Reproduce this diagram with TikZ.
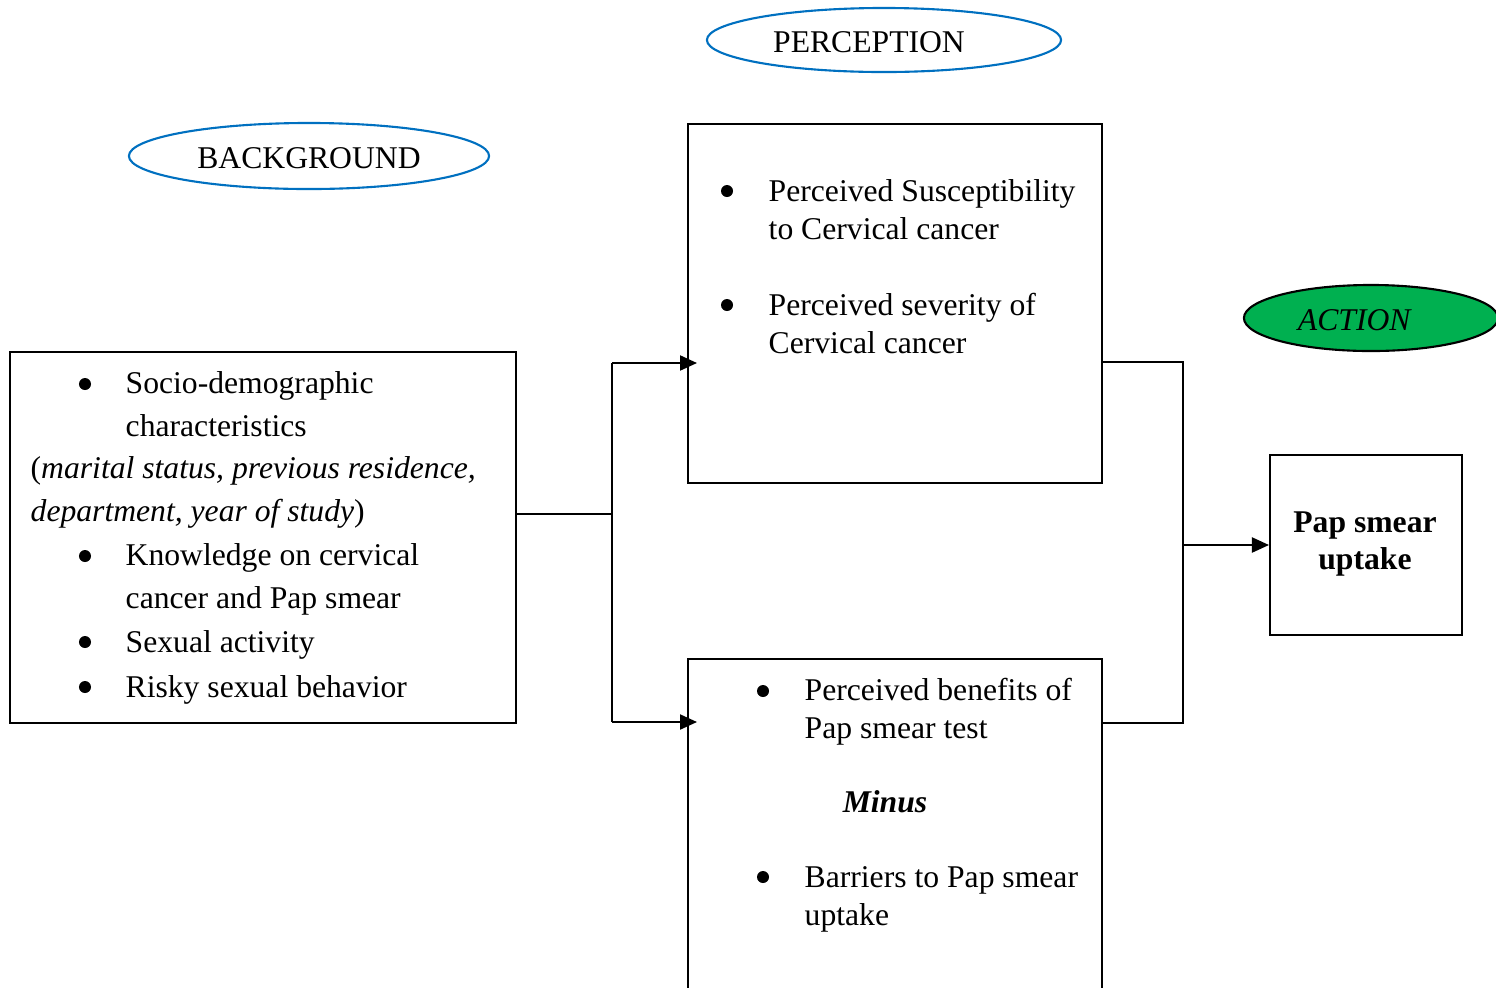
\documentclass[tikz,border=0pt]{standalone}
\usepackage{fontspec}
\setmainfont{Liberation Serif}
\usetikzlibrary{shapes.geometric,arrows.meta}
\definecolor{ovalblue}{HTML}{0070C0}
\definecolor{actgreen}{HTML}{00B050}
\tikzset{
  >={Triangle[length=1.7mm,width=1.5mm]},
  frame/.style={draw, line width=0.6pt, inner sep=0pt, anchor=north west},
  oval/.style={ellipse, draw=ovalblue, line width=0.6pt, inner sep=0pt, text height=2.5mm, text depth=0pt},
  txt/.style={anchor=base west, inner sep=0pt, align=left},
  dot/.style={circle, fill, inner sep=0pt, minimum size=1.2mm},
}

\begin{document}
\begin{tikzpicture}[x=0.01cm, y=-0.01cm, font=\fontsize{9}{10.8}\selectfont]
    \clip (0,0) rectangle (1496,987);
    \useasboundingbox (0,0) rectangle (1496,987);

    % ovals
    \node[oval, minimum width=3.54cm, minimum height=0.64cm] (percoval) at (884,40) {PERCEPTION\hspace*{3mm}};
    \node[oval, minimum width=3.60cm, minimum height=0.66cm] (bgoval) at (309,156) {BACKGROUND};
    \node[oval, draw=black, fill=actgreen, minimum width=2.54cm, minimum height=0.66cm] (actoval) at (1371,318) {\textit{ACTION}\hspace*{3.2mm}};

    % boxes
    \node[frame, minimum width=5.06cm, minimum height=3.71cm] (bg) at (9,351) {};
    \node[frame, minimum width=4.14cm, minimum height=3.59cm] (percA) at (687,123) {};
    \node[frame, minimum width=4.14cm, minimum height=4.00cm] (percB) at (687,658) {};
    \node[frame, minimum width=1.92cm, minimum height=1.80cm] (act) at (1269,454) {};

    % bullets
    \foreach \p [count=\i] in {(85,384),(85,556),(85,642),(85,687),(727,191),(727,305),(763,691),(763,877)}
      \node[dot] (dot\i) at \p {};

    % background texts (base = last line)
    \begin{scope}[every node/.append style={font=\fontsize{9}{12}\selectfont}]
      \node[txt] (bgA) at (125,436) {Socio-demographic\\characteristics};
      \node[txt] (bgB) at (30,521) {(\textit{marital status, previous residence,}\\\textit{department, year of study})};
      \node[txt] (bgC) at (125,608) {Knowledge on cervical\\cancer and Pap smear};
      \node[txt] (bgD) at (125,652) {Sexual activity};
      \node[txt] (bgE) at (125,697) {Risky sexual behavior};
    \end{scope}

    % perception texts
    \node[txt] (pA) at (768,239) {Perceived Susceptibility\\to Cervical cancer};
    \node[txt] (pB) at (768,353) {Perceived severity of\\Cervical cancer};
    \node[txt] (pC) at (804,738) {Perceived benefits of\\Pap smear test};
    \node[anchor=base, inner sep=0pt] (minus) at (885,812) {\textbf{\textit{Minus}}};
    \node[txt] (pD) at (804,925) {Barriers to Pap smear\\uptake};

    \node[align=center, inner sep=0pt, font=\fontsize{9}{10.8}\selectfont\bfseries] (actT) at (1365,544) {Pap smear\\uptake};

    % connectors
    \coordinate (jl) at (612,514);
    \coordinate (jt) at (612,363);
    \coordinate (jb) at (612,722);
    \coordinate (rt) at (1183,362);
    \coordinate (rb) at (1183,723);
    \coordinate (jr) at (1183,545);
    \begin{scope}[line width=0.6pt]
      \draw (bg.east |- jl) -- (jl);
      \draw (jt) -- (jb);
      \draw[->, shorten >=-1mm] (jt) -- (jt -| percA.west);
      \draw[->, shorten >=-1mm] (jb) -- (jb -| percB.west);
      \draw (rt -| percA.east) -- (rt) -- (rb) -- (rb -| percB.east);
      \draw[->] (jr) -- (jr -| act.west);
    \end{scope}
  \end{tikzpicture}
\end{document}
